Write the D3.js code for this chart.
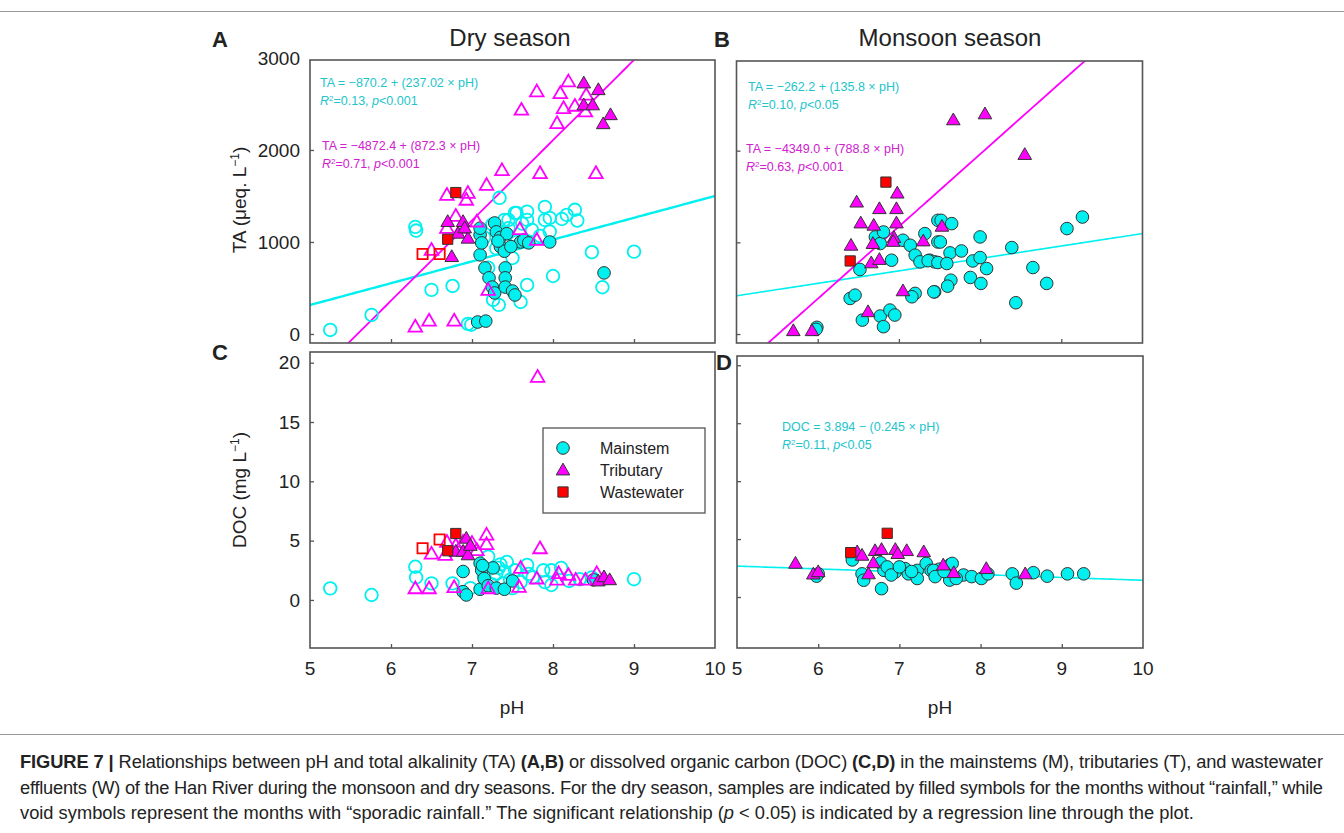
<!DOCTYPE html>
<html>
<head>
<meta charset="utf-8">
<script src="https://cdn.jsdelivr.net/npm/d3@7"></script>
<style>
  html, body { margin: 0; padding: 0; background: #fff; }
  svg { display: block; font-family: "Liberation Sans", Arial, sans-serif; }
</style>
</head>
<body>
<svg id="fig" width="1344" height="833"></svg>
<script>
// ---- Dry season, total alkalinity (pH, TA µeq/L) ----
const dryTA_mainFilled = [[7.07,130],[7.17,140],[7.10,860],[7.16,718],[7.21,610],[7.25,510],[7.28,446],[7.10,1077],[7.12,990],[7.28,1207],[7.30,1110],[7.35,1050],[7.43,1090],[7.10,1150],[7.35,950],[7.40,900],[7.41,718],[7.41,610],[7.41,510],[7.50,467],[7.53,424],[7.60,1000],[7.64,1020],[7.70,990],[7.96,1000],[8.63,664],[7.48,950],[7.32,1010]];
const dryTA_mainVoid = [[5.25,44],[5.76,207],[6.30,1164],[6.31,1124],[6.50,479],[6.76,522],[6.95,110],[6.99,100],[7.34,1480],[7.20,720],[7.26,370],[7.33,316],[7.55,1316],[7.68,1330],[7.68,1240],[7.90,1382],[7.90,1240],[7.96,1262],[8.11,1250],[8.17,1295],[8.27,1350],[8.30,1233],[7.96,1113],[8.48,889],[9.00,895],[8.00,630],[8.61,508],[7.68,533],[7.60,348],[7.50,826],[7.74,1131],[7.84,1066],[7.53,1316],[7.45,1240],[7.25,1190],[7.35,1100],[7.45,1150],[7.15,1050],[7.62,1200],[7.30,930],[7.55,1000],[7.65,1010],[7.40,1240]];
const dryTA_tribFilled = [[8.38,2728],[8.56,2655],[8.38,2490],[8.49,2490],[8.71,2383],[8.62,2285],[6.70,1222],[6.89,1222],[6.83,1095],[6.95,1041],[6.75,841],[6.91,1153]];
const dryTA_tribVoid = [[6.30,80],[6.47,145],[6.78,145],[6.69,1512],[6.95,1533],[6.93,1458],[7.18,1620],[6.80,1284],[6.69,1153],[6.87,1153],[7.06,1222],[7.20,479],[6.50,914],[8.19,2745],[7.80,2636],[8.09,2618],[8.41,2600],[7.61,2437],[8.13,2455],[8.27,2480],[8.40,2418],[8.05,2292],[7.84,1748],[8.53,1748],[7.37,1780],[7.59,1139],[7.80,1023]];
const dryTA_wasteFilled = [[6.80,1537],[6.70,1030]];
const dryTA_wasteVoid = [[6.39,870],[6.60,870]];

// ---- Monsoon season, total alkalinity ----
const monTA_main = [[5.99,73],[5.98,51],[6.40,388],[6.46,424],[6.52,704],[6.55,152],[6.77,196],[6.81,80],[6.89,261],[6.95,207],[6.91,805],[6.71,1059],[6.77,987],[6.81,1113],[7.05,1023],[7.14,968],[7.20,860],[7.26,787],[7.32,1095],[7.38,805],[7.44,787],[7.44,460],[7.20,443],[7.16,406],[7.48,1004],[7.48,1240],[7.52,1240],[7.65,1204],[7.51,1004],[8.00,1059],[8.39,943],[9.07,1150],[9.26,1276],[8.65,725],[8.82,552],[8.44,341],[7.63,885],[7.77,906],[7.91,797],[8.00,834],[8.08,714],[7.88,617],[8.01,552],[7.64,587],[7.60,522],[7.43,460],[7.36,800],[7.48,780],[7.59,769]];
const monTA_trib = [[5.70,36],[5.93,36],[6.62,243],[7.05,471],[6.41,968],[6.48,1439],[6.53,1211],[6.69,1186],[6.76,1367],[6.97,1367],[6.97,1211],[6.98,1537],[6.68,987],[6.66,776],[6.76,813],[6.94,1052],[7.30,1015],[6.93,1010],[7.67,2336],[8.06,2401],[8.55,1958],[7.53,1175]];
const monTA_waste = [[6.84,1657],[6.40,797]];

// ---- Dry season, dissolved organic carbon (pH, DOC mg/L) ----
const dryDOC_mainFilled = [[7.10,3.1],[6.89,2.4],[7.12,2.5],[6.89,0.7],[6.93,0.42],[7.10,0.9],[7.26,2.7],[7.15,1.8],[7.20,1.2],[7.30,1.0],[7.40,0.9],[7.13,2.9],[7.50,1.6],[8.50,1.7]];
const dryDOC_mainVoid = [[5.25,0.98],[5.76,0.42],[6.30,2.8],[6.31,1.9],[6.50,1.4],[6.76,1.4],[7.20,3.65],[6.98,1.0],[7.33,2.7],[9.00,1.75],[7.43,3.2],[7.53,2.5],[7.68,2.95],[7.88,2.5],[7.98,2.5],[8.10,2.7],[7.98,1.26],[7.75,1.9],[8.33,1.75],[8.48,1.9],[7.38,1.4],[7.47,1.7],[7.30,2.2],[7.60,1.5],[7.25,1.3],[7.40,2.4],[7.70,2.2],[7.35,3.0],[7.15,2.0],[7.50,1.0],[7.90,1.5],[8.20,1.6]];
const dryDOC_tribFilled = [[6.93,5.2],[6.80,4.1],[6.89,4.1],[6.95,3.8],[6.98,4.6],[8.56,1.6],[8.63,1.95],[8.70,1.7]];
const dryDOC_tribVoid = [[6.30,0.98],[6.47,0.98],[6.78,1.07],[7.20,0.98],[6.50,3.9],[6.67,3.8],[6.69,4.9],[6.80,4.6],[6.89,4.9],[7.18,5.5],[7.18,4.7],[7.06,4.2],[7.00,4.8],[7.84,4.35],[7.60,2.7],[7.58,1.1],[7.80,1.8],[8.07,2.25],[8.05,1.7],[8.19,2.1],[8.28,1.7],[8.40,1.7],[8.54,2.25],[7.81,18.8]];
const dryDOC_wasteFilled = [[6.80,5.6],[6.70,4.15]];
const dryDOC_wasteVoid = [[6.39,4.35],[6.60,5.1]];

// ---- Monsoon season, dissolved organic carbon ----
const monDOC_main = [[6.42,3.2],[6.54,2.0],[6.56,1.45],[6.78,0.72],[6.77,2.95],[6.81,2.3],[6.95,2.16],[7.07,2.45],[7.11,2.0],[7.22,2.3],[7.22,1.6],[7.33,2.9],[7.39,2.3],[7.49,2.4],[7.42,2.3],[7.44,1.76],[7.62,2.76],[7.65,2.9],[7.62,1.46],[7.79,1.9],[7.89,1.76],[8.01,1.6],[8.09,2.0],[8.39,2.0],[8.44,1.2],[8.65,2.1],[8.82,1.8],[9.07,2.0],[9.27,2.0],[6.00,2.0],[5.98,1.8],[6.85,2.6],[6.90,1.9],[7.00,2.6],[7.15,2.2],[7.55,2.2],[7.70,1.6]];
const monDOC_trib = [[5.72,2.91],[5.94,1.98],[6.00,2.18],[6.48,3.9],[6.54,3.6],[6.70,4.0],[6.78,4.1],[6.68,2.95],[6.62,2.0],[6.95,4.1],[7.09,4.0],[7.30,3.9],[6.98,3.75],[7.54,2.76],[7.67,2.1],[8.07,2.45],[8.55,2.0]];
const monDOC_waste = [[6.40,3.83],[6.85,5.5]];

// ---- Regression fits: [intercept, slope] ----
const fitDryTA_main = [-870.2, 237.02];
const fitDryTA_trib = [-4872.4, 872.3];
const fitMonTA_main = [-262.2, 135.8];
const fitMonTA_trib = [-4349.0, 788.8];
const fitMonDOC_main = [3.894, -0.245];

// ---- Axis ticks ----
const phTicks = [5, 6, 7, 8, 9, 10];
const taTicks = [0, 1000, 2000, 3000];
const docTicks = [0, 5, 10, 15, 20];
const legendLabels = ["Mainstem", "Tributary", "Wastewater"];

const CYAN = "#00f0f0", CYAN_TXT = "#22c4cc", MAG = "#ff00ff", RED = "#ff0000", EDGE = "#333";

const svg = d3.select("#fig");

// Figure frame lines
svg.append("line").attr("x1", 0).attr("x2", 1344).attr("y1", 11.5).attr("y2", 11.5).attr("stroke", "#999").attr("stroke-width", 1);
svg.append("line").attr("x1", 0).attr("x2", 1344).attr("y1", 734.5).attr("y2", 734.5).attr("stroke", "#999").attr("stroke-width", 1);

function makePanel(box, yDomain, yTicks, showYLabels, showXLabels) {
  const x = d3.scaleLinear().domain([5, 10]).range([box.x0, box.x1]);
  const y = d3.scaleLinear().domain(yDomain).range([box.y1, box.y0]);
  const g = svg.append("g");
  const clipId = "clip" + Math.round(box.x0) + "_" + Math.round(box.y0);
  svg.append("clipPath").attr("id", clipId).append("rect")
    .attr("x", box.x0).attr("y", box.y0).attr("width", box.x1 - box.x0).attr("height", box.y1 - box.y0);

  // inward ticks on left and bottom
  const yAxis = d3.axisRight(y).tickValues(yTicks.filter(v => y(v) > box.y0 + 2)).tickSize(4).tickFormat("");
  g.append("g").attr("transform", `translate(${box.x0},0)`).call(yAxis)
    .call(s => s.select(".domain").remove())
    .call(s => s.selectAll("line").attr("stroke", "#555").attr("stroke-width", 1.3));
  const xAxis = d3.axisTop(x).tickValues(phTicks.slice(1, -1)).tickSize(4).tickFormat("");
  g.append("g").attr("transform", `translate(0,${box.y1})`).call(xAxis)
    .call(s => s.select(".domain").remove())
    .call(s => s.selectAll("line").attr("stroke", "#555").attr("stroke-width", 1.3));

  if (showYLabels) {
    g.selectAll(".ylab").data(yTicks).join("text")
      .attr("x", box.x0 - 10).attr("y", d => y(d)).attr("dy", "0.35em")
      .attr("text-anchor", "end").attr("font-size", 19).attr("fill", "#222").text(d => d);
  }
  if (showXLabels) {
    g.selectAll(".xlab").data(phTicks).join("text")
      .attr("x", d => x(d)).attr("y", box.y1 + 27)
      .attr("text-anchor", "middle").attr("font-size", 19).attr("fill", "#222").text(d => d);
  }

  const plot = g.append("g").attr("clip-path", `url(#${clipId})`);
  g.append("rect").attr("x", box.x0).attr("y", box.y0).attr("width", box.x1 - box.x0).attr("height", box.y1 - box.y0)
    .attr("fill", "none").attr("stroke", "#555").attr("stroke-width", 1.6);
  return { x, y, plot, g };
}

function fitLine(p, fit, color, width) {
  const f = v => fit[0] + fit[1] * v;
  p.plot.append("path").datum(d3.range(5, 10.001, 0.05))
    .attr("d", d3.line().x(v => p.x(v)).y(v => p.y(f(v))))
    .attr("fill", "none").attr("stroke", color).attr("stroke-width", width);
}

const triSym = d3.symbol().type(d3.symbolTriangle).size(80);
const sqSym = d3.symbol().type(d3.symbolSquare).size(105);

function circles(p, data, filled) {
  p.plot.append("g").selectAll("circle").data(data).join("circle")
    .attr("cx", d => p.x(d[0])).attr("cy", d => p.y(d[1])).attr("r", 6.3)
    .attr("fill", filled ? CYAN : "#fff").attr("fill-opacity", filled ? 1 : 0.0)
    .attr("stroke", filled ? EDGE : CYAN).attr("stroke-width", filled ? 1 : 1.8);
}
function triangles(p, data, filled) {
  p.plot.append("g").selectAll("path").data(data).join("path")
    .attr("transform", d => `translate(${p.x(d[0])},${p.y(d[1]) + 1})`).attr("d", triSym)
    .attr("fill", filled ? MAG : "none")
    .attr("stroke", filled ? EDGE : MAG).attr("stroke-width", filled ? 1 : 1.8);
}
function squares(p, data, filled) {
  p.plot.append("g").selectAll("path").data(data).join("path")
    .attr("transform", d => `translate(${p.x(d[0])},${p.y(d[1])})`).attr("d", sqSym)
    .attr("fill", filled ? RED : "none")
    .attr("stroke", filled ? EDGE : RED).attr("stroke-width", filled ? 1 : 1.8);
}

function eqText(g, xPos, yPos, lines, color) {
  lines.forEach((ln, i) => {
    const t = g.append("text").attr("x", xPos).attr("y", yPos + i * 18).attr("font-size", 12.5).attr("fill", color);
    ln.forEach(seg => {
      const ts = t.append("tspan").text(seg.t);
      if (seg.i) ts.attr("font-style", "italic");
      if (seg.sup) ts.attr("font-size", 8).attr("baseline-shift", "super");
    });
  });
}
function r2Line(r2, p) {
  return [{ t: "R", i: true }, { t: "2", sup: true }, { t: "=" + r2 + ", " }, { t: "p", i: true }, { t: p }];
}

// ---- Panel A: dry season TA ----
const pA = makePanel({ x0: 310, x1: 715, y0: 60, y1: 343 }, [-98, 2978], taTicks, true, false);
fitLine(pA, fitDryTA_main, CYAN, 2.4);
fitLine(pA, fitDryTA_trib, MAG, 1.8);
circles(pA, dryTA_mainVoid, false);
circles(pA, dryTA_mainFilled, true);
triangles(pA, dryTA_tribVoid, false);
triangles(pA, dryTA_tribFilled, true);
squares(pA, dryTA_wasteVoid, false);
squares(pA, dryTA_wasteFilled, true);
eqText(pA.g, 320, 87, [[{ t: "TA = \u2212870.2 + (237.02 \u00d7 pH)" }], r2Line("0.13", "<0.001")], CYAN_TXT);
eqText(pA.g, 322, 150, [[{ t: "TA = \u22124872.4 + (872.3 \u00d7 pH)" }], r2Line("0.71", "<0.001")], "#d020d0");

// ---- Panel B: monsoon TA ----
const pB = makePanel({ x0: 736.5, x1: 1142.5, y0: 61, y1: 343 }, [-98, 2978], taTicks, false, false);
fitLine(pB, fitMonTA_main, CYAN, 1.6);
fitLine(pB, fitMonTA_trib, MAG, 1.8);
circles(pB, monTA_main, true);
triangles(pB, monTA_trib, true);
squares(pB, monTA_waste, true);
eqText(pB.g, 748, 91, [[{ t: "TA = \u2212262.2 + (135.8 \u00d7 pH)" }], r2Line("0.10", "<0.05")], CYAN_TXT);
eqText(pB.g, 746, 153, [[{ t: "TA = \u22124349.0 + (788.8 \u00d7 pH)" }], r2Line("0.63", "<0.001")], "#d020d0");

// ---- Panel C: dry season DOC ----
const pC = makePanel({ x0: 310, x1: 715, y0: 352, y1: 648 }, [-4.05, 20.9], docTicks, true, true);
circles(pC, dryDOC_mainVoid, false);
circles(pC, dryDOC_mainFilled, true);
triangles(pC, dryDOC_tribVoid, false);
triangles(pC, dryDOC_tribFilled, true);
squares(pC, dryDOC_wasteVoid, false);
squares(pC, dryDOC_wasteFilled, true);

// ---- Panel D: monsoon DOC ----
const pD = makePanel({ x0: 737, x1: 1143, y0: 356, y1: 648 }, [-4.4, 20.8], docTicks, false, true);
fitLine(pD, fitMonDOC_main, CYAN, 1.6);
circles(pD, monDOC_main, true);
triangles(pD, monDOC_trib, true);
squares(pD, monDOC_waste, true);
eqText(pD.g, 782, 431, [[{ t: "DOC = 3.894 \u2212 (0.245 \u00d7 pH)" }], r2Line("0.11", "<0.05")], CYAN_TXT);

// ---- Legend ----
const leg = svg.append("g");
leg.append("rect").attr("x", 543).attr("y", 428).attr("width", 162).attr("height", 85)
  .attr("fill", "#fff").attr("stroke", "#555").attr("stroke-width", 1.3);
const legMarks = [
  sel => sel.append("circle").attr("r", 6.3).attr("fill", CYAN).attr("stroke", EDGE),
  sel => sel.append("path").attr("d", triSym).attr("transform", "translate(0,1)").attr("fill", MAG).attr("stroke", EDGE),
  sel => sel.append("path").attr("d", sqSym).attr("fill", RED).attr("stroke", EDGE)
];
legendLabels.forEach((lab, i) => {
  const row = leg.append("g").attr("transform", `translate(563,${448 + i * 22})`);
  legMarks[i](row);
  row.append("text").attr("x", 37).attr("dy", "0.35em").attr("font-size", 16).attr("fill", "#222").text(lab);
});

// ---- Titles and axis labels ----
const txt = (x, y, s, size, opts = {}) => {
  const t = svg.append("text").attr("x", x).attr("y", y).attr("font-size", size).attr("fill", "#222").text(s);
  Object.entries(opts).forEach(([k, v]) => t.attr(k, v));
  return t;
};
txt(212, 47, "A", 22, { "font-weight": "bold" });
txt(714, 47, "B", 22, { "font-weight": "bold" });
txt(212, 360, "C", 22, { "font-weight": "bold" });
txt(716, 370, "D", 22, { "font-weight": "bold" });
txt(510, 46, "Dry season", 24, { "text-anchor": "middle" });
txt(950, 46, "Monsoon season", 24, { "text-anchor": "middle" });
txt(512, 714, "pH", 19, { "text-anchor": "middle" });
txt(940, 714, "pH", 19, { "text-anchor": "middle" });

const yl1 = svg.append("text").attr("transform", "translate(246,200) rotate(-90)").attr("text-anchor", "middle")
  .attr("font-size", 19).attr("fill", "#222");
yl1.append("tspan").text("TA (\u03bceq. L");
yl1.append("tspan").text("\u22121").attr("font-size", 12).attr("baseline-shift", "super");
yl1.append("tspan").text(")");
const yl2 = svg.append("text").attr("transform", "translate(246,490) rotate(-90)").attr("text-anchor", "middle")
  .attr("font-size", 19).attr("fill", "#222");
yl2.append("tspan").text("DOC (mg L");
yl2.append("tspan").text("\u22121").attr("font-size", 12).attr("baseline-shift", "super");
yl2.append("tspan").text(")");

// ---- Caption (first two lines justified to the text column) ----
const cap = svg.append("g").attr("font-size", 18.3).attr("fill", "#222");
const c1 = cap.append("text").attr("x", 20).attr("y", 768)
  .attr("textLength", 1303).attr("lengthAdjust", "spacing");
c1.append("tspan").text("FIGURE 7 | ").attr("font-weight", "bold");
c1.append("tspan").text("Relationships between pH and total alkalinity (TA) ");
c1.append("tspan").text("(A,B)").attr("font-weight", "bold");
c1.append("tspan").text(" or dissolved organic carbon (DOC) ");
c1.append("tspan").text("(C,D)").attr("font-weight", "bold");
c1.append("tspan").text(" in the mainstems (M), tributaries (T), and wastewater");
cap.append("text").attr("x", 20).attr("y", 794)
  .attr("textLength", 1303).attr("lengthAdjust", "spacing")
  .text("effluents (W) of the Han River during the monsoon and dry seasons. For the dry season, samples are indicated by filled symbols for the months without \u201crainfall,\u201d while");
const c3 = cap.append("text").attr("x", 20).attr("y", 819);
c3.append("tspan").text("void symbols represent the months with \u201csporadic rainfall.\u201d The significant relationship (");
c3.append("tspan").text("p").attr("font-style", "italic");
c3.append("tspan").text(" < 0.05) is indicated by a regression line through the plot.");
</script>
</body>
</html>
